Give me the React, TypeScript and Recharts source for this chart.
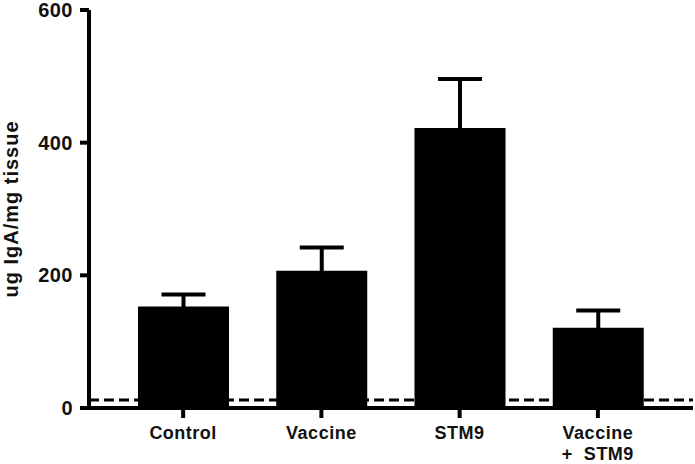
import { BarChart, Bar, XAxis, YAxis, ErrorBar, ReferenceLine } from 'recharts';

const groups = ['Control', 'Vaccine', 'STM9', 'Vaccine\n+  STM9'];
const iga = [153, 207, 422, 121];
const sem = [18, 35, 74, 26];
const yTicks = [0, 200, 400, 600];
const detectionLimit = 12;

const data = groups.map((g, i) => ({ group: g, iga: iga[i], sem: sem[i] }));

const font = '"Liberation Sans", Arial, sans-serif';

function GroupTick(props: any) {
  const { x, y, payload } = props;
  const lines = String(payload.value).split('\n');
  return (
    <text
      x={x}
      y={y}
      textAnchor="middle"
      fontFamily={font}
      fontWeight="bold"
      fontSize={18}
      letterSpacing={0.5}
      fill="#111"
      style={{ whiteSpace: 'pre' }}
    >
      {lines.map((l, i) => (
        <tspan key={i} x={x} dy={i === 0 ? 17 : 21}>
          {l}
        </tspan>
      ))}
    </text>
  );
}

export default function App() {
  return (
    <div style={{ position: 'absolute', left: 0, top: 0, background: '#fff' }}>
      <BarChart
        width={695}
        height={464}
        data={data}
        margin={{ top: 10, right: 2, bottom: 0, left: 0 }}
      >
        <YAxis
          width={89}
          domain={[0, 600]}
          ticks={yTicks}
          interval={0}
          axisLine={{ stroke: '#000', strokeWidth: 4 }}
          tickLine={{ stroke: '#000', strokeWidth: 4 }}
          tickSize={9}
          tickMargin={7}
          tick={{ fill: '#111', fontSize: 20, fontWeight: 'bold', fontFamily: font, letterSpacing: 0.5 }}
          label={{
            value: 'ug IgA/mg tissue',
            angle: -90,
            position: 'insideLeft',
            offset: 0,
            dx: 11,
            style: {
              textAnchor: 'middle',
              fontFamily: font,
              fontWeight: 'bold',
              fontSize: 20,
              letterSpacing: 1,
              fill: '#111',
            },
          }}
        />
        <XAxis
          dataKey="group"
          height={56}
          interval={0}
          padding={{ left: 25, right: 26 }}
          axisLine={{ stroke: '#000', strokeWidth: 4 }}
          tickLine={{ stroke: '#000', strokeWidth: 4 }}
          tickSize={10}
          tickMargin={4}
          tick={<GroupTick />}
        />
        <ReferenceLine y={detectionLimit} stroke="#000" strokeWidth={3} strokeDasharray="10 5" />
        <Bar dataKey="iga" fill="#000" barSize={91} isAnimationActive={false}>
          <ErrorBar dataKey="sem" direction="y" width={22} stroke="#000" strokeWidth={4} />
        </Bar>
      </BarChart>
    </div>
  );
}
